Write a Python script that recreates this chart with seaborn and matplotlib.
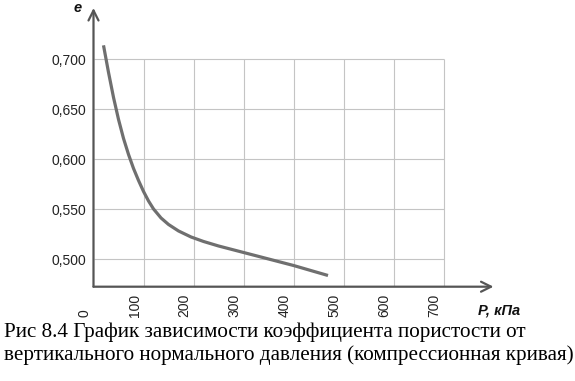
import matplotlib
matplotlib.use('Agg')
import matplotlib.pyplot as plt
import seaborn as sns
import pandas as pd

# values
pressure = [20, 30, 40, 50, 60, 70, 80, 90, 100, 110, 120, 135, 150, 170, 195, 220, 250, 300, 350, 400, 469]
void_ratio = [0.714, 0.687, 0.662, 0.640, 0.621, 0.605, 0.591, 0.579, 0.568, 0.5585, 0.5505, 0.5415,
              0.5350, 0.5285, 0.5225, 0.518, 0.5135, 0.507, 0.5005, 0.494, 0.484]

x_ticks = [0, 100, 200, 300, 400, 500, 600, 700]
y_ticks = [0.500, 0.550, 0.600, 0.650, 0.700]
y_labels = ['0,500', '0,550', '0,600', '0,650', '0,700']

caption = ['Рис 8.4 График зависимости коэффициента пористости от',
           'вертикального нормального давления (компрессионная кривая)']

sns.set_theme(style='white')
plt.rcParams['font.family'] = ['Liberation Sans Narrow', 'Liberation Sans', 'DejaVu Sans']

df = pd.DataFrame({'P': pressure, 'e': void_ratio})

fig = plt.figure(figsize=(5.75, 3.81), dpi=100)
ax = fig.add_axes([93.5 / 575, 1 - 286.7 / 381, 400 / 575, 278.7 / 381])
ax.set_xlim(0, 800)
ax.set_ylim(0.4728, 0.7513)

# grid box
ax.hlines(y_ticks, 0, 700, color='#c4c4c4', lw=0.8, zorder=1)
ax.vlines(x_ticks[1:], 0.4728, 0.700, color='#c4c4c4', lw=0.8, zorder=1)

sns.lineplot(data=df, x='P', y='e', ax=ax, color='#6f6f6f', lw=2.3, zorder=3)
ax.lines[-1].set_solid_capstyle('butt')
ax.lines[-1].set_solid_joinstyle('round')

for s in ax.spines.values():
    s.set_visible(False)

ax.annotate('', xy=(0, 0.7513), xytext=(0, 0.4728),
            arrowprops=dict(arrowstyle='->', color='#555555', lw=1.6, mutation_scale=18, shrinkA=0, shrinkB=0),
            annotation_clip=False)
ax.annotate('', xy=(800, 0.4728), xytext=(0, 0.4728),
            arrowprops=dict(arrowstyle='->', color='#555555', lw=1.6, mutation_scale=18, shrinkA=0, shrinkB=0),
            annotation_clip=False)

ax.set_yticks(y_ticks, y_labels)
ax.tick_params(axis='y', length=0, pad=5.5, labelsize=10, labelcolor='#222222')
ax.set_xticks([])
ax.set_xlabel('')
ax.set_ylabel('')

trans = ax.get_xaxis_transform()
for t in x_ticks:
    ax.text(t - 18, -30.3 / 278.7, str(t), transform=trans, rotation=90,
            ha='center', va='bottom', fontsize=10, color='#222222')

fig.text(478 / 575, 1 - 310.7 / 381, 'P, кПа', ha='left', va='center',
         fontsize=10.5, fontweight='bold', fontstyle='italic', color='#111111')
fig.text(78 / 575, 1 - 8 / 381, 'e', ha='center', va='center',
         fontsize=10.5, fontweight='bold', fontstyle='italic', color='#111111')

fig.text(4 / 575, 1 - 332 / 381, caption[0], ha='left', va='center',
         family='Liberation Serif', fontsize=15.2, color='black')
fig.text(4 / 575, 1 - 355 / 381, caption[1], ha='left', va='center',
         family='Liberation Serif', fontsize=15.2, color='black')

fig.savefig('out.png', dpi=100, facecolor='white')
